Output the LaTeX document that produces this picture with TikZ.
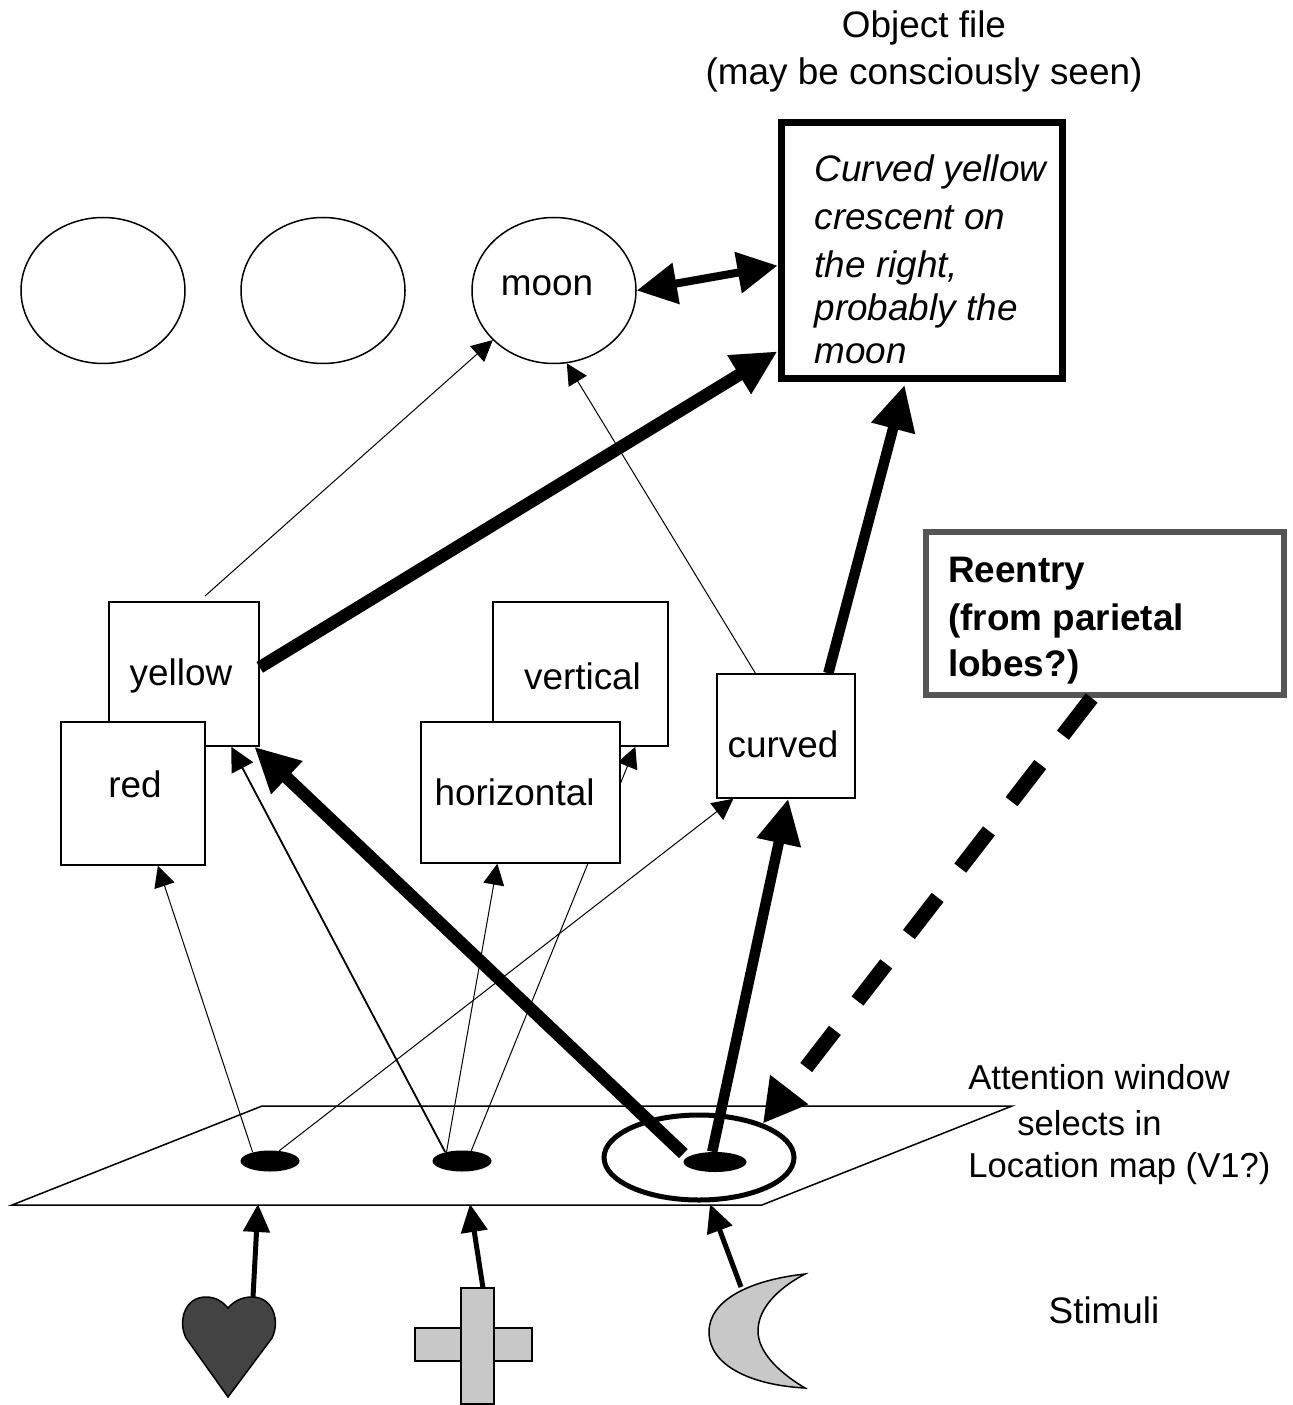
\documentclass[tikz,border=0pt]{standalone}
\usepackage{fontspec}
\setmainfont{Liberation Sans}
\usetikzlibrary{shapes.geometric, arrows.meta}
\definecolor{mdark}{HTML}{434343}
\definecolor{mlight}{HTML}{C8C8C8}
\definecolor{mframe}{HTML}{555555}
\def\px{0.02cm}
\newcommand{\labelfont}{\fontsize{21}{27.2}\selectfont}
\tikzset{trapezium stretches=true}
\tikzstyle{unit} = [rectangle, draw, fill = white, line width = 1.5*\px, inner sep = 0pt]
\tikzstyle{blob} = [ellipse, draw, fill = white, line width = 1.5*\px, inner sep = 0pt, minimum width = 164*\px, minimum height = 146*\px]
\tikzstyle{spot} = [ellipse, fill = black, inner sep = 0pt, minimum width = 59*\px, minimum height = 21*\px]
\tikzstyle{outline} = [draw, line width = 1.5*\px]
\tikzstyle{weak} = [line width = \px, -{Triangle[length=0.42cm,width=0.42cm]}]
\tikzstyle{medium} = [line width = 1.8*\px, -{Triangle[length=0.48cm,width=0.48cm]}]
\tikzstyle{strong} = [line width = 12.5*\px, -{Triangle[length=0.9cm,width=0.85cm]}]
\tikzstyle{stim} = [line width = 5*\px, -{Triangle[length=0.56cm,width=0.52cm]}]

\begin{document}
\begin{tikzpicture}[x=\px, y=-\px, every node/.style={font=\labelfont}]
  \useasboundingbox (0,0) rectangle (1292,1405);
  % location map
  \node (map) [trapezium, draw, fill = white, line width = 1.5*\px, inner sep = 1pt, trapezium left angle = 63.43, trapezium right angle = 116.57, minimum width = 1000*\px, minimum height = 99*\px] at (512,1155.5) {};
  \node (window) [ellipse, draw, line width = 5*\px, inner sep = 0pt, minimum width = 190*\px, minimum height = 85*\px] at (699,1157.5) {};
  \node (spotA) [spot] at (270,1161) {};
  \node (spotB) [spot] at (462,1161) {};
  \node (spotC) [spot, minimum width = 63*\px, minimum height = 20*\px] at (715,1162) {};
  % identity nodes
  \node (blobA) [blob] at (103,290.5) {};
  \node (blobB) [blob] at (323,290.5) {};
  \node (moon) [blob, label={[shift={(-7,-5)}]center:moon}] at (554,290.5) {};
  % object file
  \node (file) [unit, line width = 7*\px, minimum width = 281*\px, minimum height = 256*\px,
    label={[font=\labelfont\itshape, align=left, shift={(9,9)}]center:{Curved yellow\\crescent on\\the right,\\[-2.5pt]probably the\\[-2.5pt]moon}}] at (921.5,250.5) {};
  \node (filetitle) [align=center] at (924,51.5) {Object file\\(may be consciously seen)};
  % feature maps
  \node (yellow) [unit, minimum width = 150*\px, minimum height = 144*\px, label={[shift={(-3,2)}]center:yellow}] at (184,674) {};
  \node (red) [unit, minimum width = 144*\px, minimum height = 143*\px, label={[shift={(2,-9)}]center:red}] at (133,793.5) {};
  \node (vertical) [unit, minimum width = 175*\px, minimum height = 144*\px, label={[shift={(2,2)}]center:vertical}] at (580.5,674) {};
  \draw [weak] (spotB.48) -- (vertical.-53.5);
  \node (horizontal) [unit, minimum width = 199*\px, minimum height = 141*\px, label={[shift={(-6,0)}]center:horizontal}] at (520.5,792.5) {};
  \node (curved) [unit, minimum width = 138*\px, minimum height = 124*\px, label={[shift={(-3,8)}]center:curved}] at (786,736) {};
  % reentry
  \node (reentry) [unit, draw = mframe, line width = 6*\px, minimum width = 358*\px, minimum height = 163*\px,
    label={[font=\labelfont\bfseries, align=left, shift={(-39,7.5)}]center:{Reentry\\(from parietal\\[-1pt]lobes?)}}] at (1105,613.5) {};
  % texts
  \node (windowlabel) [font=\fontsize{19.7}{27.2}\selectfont, align=left, anchor=west, inner sep=0pt] at (968,1124.5) {Attention window\\[-1pt]\hspace*{0.98cm}selects in\\[-3.4pt]Location map (V1?)};
  \node (stimlabel) at (1104,1310) {Stimuli};
  % stimuli
  \draw [outline, fill = mdark] (228,1397) -- (186,1338) .. controls (178,1322) and (184,1297) .. (206,1297) .. controls (215,1297) and (222,1301) .. (228,1308) .. controls (234,1301) and (242,1297) .. (252,1297) .. controls (274,1297) and (280,1322) .. (272,1338) -- cycle;
  \draw [outline, fill = mlight] (415,1328) rectangle (532,1361);
  \draw [outline, fill = mlight] (461,1288) rectangle (494,1404);
  \draw [outline, fill = mlight] (805,1274) .. controls (750,1280) and (709,1300) .. (709,1332) .. controls (709,1365) and (750,1385) .. (805,1388) .. controls (775,1370) and (758,1350) .. (758,1331) .. controls (758,1310) and (775,1290) .. (805,1274) -- cycle;
  \coordinate (heart) at (253,1297);
  \coordinate (cross) at (483,1288);
  \coordinate (crescent) at (741,1287);
  \coordinate (heartin) at (258,1204);
  \coordinate (crossin) at (470,1204);
  \coordinate (crescentin) at (710,1204);
  \draw [stim] (heart) -- (heartin);
  \draw [stim] (cross) -- (crossin);
  \draw [stim] (crescent) -- (crescentin);
  % connections
  \coordinate (yellowout) at (205,596);
  \draw [weak] (spotA.153) -- (red.-71);
  \draw [weak] (spotA.48) -- (curved.-130.5);
  \draw [medium] (spotB.152) -- (yellow.-57.2);
  \draw [weak] (spotB.149) -- (horizontal.-108.4);
  \draw [weak] (yellowout) -- (moon.219.5);
  \draw [weak] (curved.116.5) -- (moon.-80);
  \draw [strong, shorten < = 5*\px] (spotC.170) -- (yellow.-46.6);
  \draw [strong, line width = 10.5*\px] (spotC.105) -- (curved.-88);
  \draw [strong] (yellow.5) -- (file.215.4);
  \draw [strong, line width = 10.5*\px, shorten > = 3*\px] (curved.56) -- (file.-97);
  \draw [line width = 8*\px, {Triangle[length=0.8cm,width=0.8cm]}-{Triangle[length=0.8cm,width=0.8cm]}] (moon.east) -- (file.186);
  \draw [line width = 15*\px, dash pattern = on 0.94cm off 0.74cm, -{Triangle[length=0.86cm,width=0.9cm]}] (reentry.-99) -- (window.28);
\end{tikzpicture}
\end{document}
